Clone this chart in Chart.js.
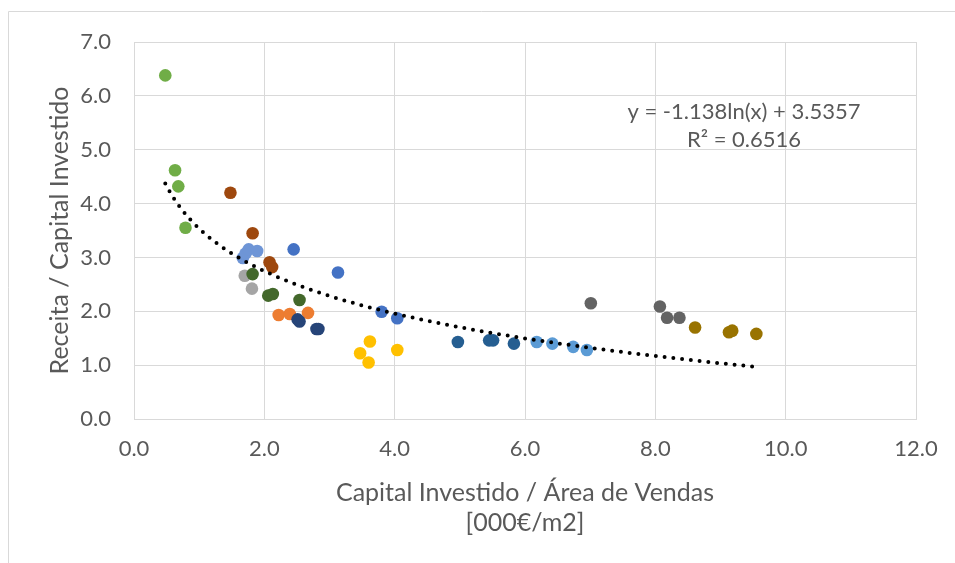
<!DOCTYPE html>
<html>
<head>
<meta charset="utf-8">
<script src="https://cdn.jsdelivr.net/npm/chart.js@4.4.1/dist/chart.umd.min.js"></script>
<style>
    body { margin: 0; background: #fff; }
    #wrap { width: 955px; height: 563px; position: relative; }
</style>
</head>
<body>
<div id="wrap"><canvas id="myChart"></canvas></div>
<script>
// x = Capital Investido / Área de Vendas, y = Receita / Capital Investido
const greenX = [0.48, 0.63, 0.68, 0.79];
const greenY = [6.38, 4.62, 4.32, 3.55];
const brownX = [1.48, 1.82, 2.08, 2.12];
const brownY = [4.20, 3.45, 2.91, 2.82];
const cornflowerX = [1.67, 1.71, 1.76, 1.89];
const cornflowerY = [2.99, 3.07, 3.15, 3.12];
const blueX = [2.45, 3.13, 3.80, 4.04];
const blueY = [3.15, 2.72, 1.99, 1.87];
const grayX = [1.70, 1.81];
const grayY = [2.66, 2.42];
const darkGreenX = [1.82, 2.06, 2.13, 2.54];
const darkGreenY = [2.69, 2.29, 2.32, 2.21];
const orangeX = [2.22, 2.39, 2.67];
const orangeY = [1.93, 1.95, 1.97];
const navyX = [2.51, 2.54, 2.80, 2.83];
const navyY = [1.85, 1.81, 1.67, 1.67];
const yellowX = [3.62, 3.47, 3.60, 4.04];
const yellowY = [1.44, 1.22, 1.05, 1.28];
const darkBlueX = [4.97, 5.45, 5.51, 5.83];
const darkBlueY = [1.43, 1.46, 1.46, 1.40];
const lightBlueX = [6.18, 6.42, 6.74, 6.95];
const lightBlueY = [1.43, 1.40, 1.34, 1.28];
const darkGrayX = [7.01, 8.07, 8.18, 8.37];
const darkGrayY = [2.15, 2.09, 1.88, 1.88];
const oliveX = [8.61, 9.13, 9.18, 9.55];
const oliveY = [1.70, 1.61, 1.64, 1.58];

// trendline shown on the chart: y = -1.138ln(x) + 3.5357
const trendA = -1.138;
const trendB = 3.5357;
const trendR2 = 0.6516;
const trendFrom = 0.48;
const trendTo = 9.55;

const xTicks = [0, 2, 4, 6, 8, 10, 12];
const yTicks = [0, 1, 2, 3, 4, 5, 6, 7];

const font = "Lato, 'Liberation Sans', sans-serif";
const textColor = "#595959";
const gridColor = "#d9d9d9";

function toPoints(xs, ys) {
    return xs.map((x, i) => ({x: x, y: ys[i]}));
}

let trend = [];
for (let i = 0; i <= 200; i++) {
    let x = trendFrom + (trendTo - trendFrom) * i / 200;
    trend.push({x: x, y: trendA * Math.log(x) + trendB});
}

const series = [
    ["navy", navyX, navyY, "#264478"],
    ["darkGreen", darkGreenX, darkGreenY, "#43682B"],
    ["cornflower", cornflowerX, cornflowerY, "#6E95D6"],
    ["blue", blueX, blueY, "#4472C4"],
    ["brown", brownX, brownY, "#9E480E"],
    ["green", greenX, greenY, "#70AD47"],
    ["gray", grayX, grayY, "#A5A5A5"],
    ["orange", orangeX, orangeY, "#ED7D31"],
    ["yellow", yellowX, yellowY, "#FFC000"],
    ["darkBlue", darkBlueX, darkBlueY, "#255E91"],
    ["lightBlue", lightBlueX, lightBlueY, "#5B9BD5"],
    ["darkGray", darkGrayX, darkGrayY, "#636363"],
    ["olive", oliveX, oliveY, "#997300"]
];

let datasets = [{
    type: "line",
    label: "Tendência",
    data: trend,
    borderColor: "#000",
    borderWidth: 4,
    borderDash: [0, 8.8],
    borderCapStyle: "round",
    pointRadius: 0,
    fill: false
}];
series.forEach(s => datasets.push({
    label: s[0],
    data: toPoints(s[1], s[2]),
    backgroundColor: s[3],
    borderWidth: 0,
    pointRadius: 6.3
}));

const frame = {
    id: "frame",
    beforeDraw(chart) {
        let ctx = chart.ctx;
        ctx.save();
        ctx.strokeStyle = gridColor;
        ctx.lineWidth = 1;
        ctx.beginPath();
        ctx.moveTo(8.5, 563);
        ctx.lineTo(8.5, 11.5);
        ctx.lineTo(955, 11.5);
        ctx.stroke();
        ctx.restore();
    },
    afterDatasetsDraw(chart) {
        let ctx = chart.ctx;
        let x = chart.scales.x.getPixelForValue(9.36);
        ctx.save();
        ctx.fillStyle = textColor;
        ctx.font = "22px " + font;
        ctx.textAlign = "center";
        ctx.textBaseline = "middle";
        ctx.fillText("y = " + trendA + "ln(x) + " + trendB, x, chart.scales.y.getPixelForValue(5.71));
        ctx.fillText("R² = " + trendR2, x, chart.scales.y.getPixelForValue(5.19));
        ctx.restore();
    }
};

new Chart("myChart", {
    type: "scatter",
    data: {datasets: datasets},
    options: {
        animation: false,
        responsive: true,
        maintainAspectRatio: false,
        layout: {padding: {top: 42, right: 39, bottom: 0, left: 0}},
        plugins: {legend: {display: false}, tooltip: {enabled: false}},
        scales: {
            x: {
                min: 0, max: 12,
                afterFit: scale => { scale.height = 144; },
                afterBuildTicks: scale => { scale.ticks = xTicks.map(v => ({value: v})); },
                grid: {color: gridColor, drawTicks: false},
                border: {color: gridColor},
                ticks: {
                    padding: 17, color: textColor, maxRotation: 0, autoSkip: false,
                    font: {family: font, size: 22},
                    callback: v => v.toFixed(1)
                },
                title: {
                    display: true,
                    text: ["Capital Investido / Área de Vendas", "[000€/m2]"],
                    color: textColor,
                    font: {family: font, size: 25, lineHeight: 30 / 25},
                    padding: {top: 0, bottom: 25}
                }
            },
            y: {
                min: 0, max: 7,
                afterFit: scale => { scale.width = 134; },
                afterBuildTicks: scale => { scale.ticks = yTicks.map(v => ({value: v})); },
                grid: {color: gridColor, drawTicks: false},
                border: {color: gridColor},
                ticks: {
                    padding: 23, color: textColor,
                    font: {family: font, size: 22},
                    callback: v => v.toFixed(1)
                },
                title: {
                    display: true,
                    text: "Receita / Capital Investido",
                    color: textColor,
                    font: {family: font, size: 25, lineHeight: 1.2},
                    padding: {top: 45, bottom: 0}
                }
            }
        }
    },
    plugins: [frame]
});
</script>
</body>
</html>
